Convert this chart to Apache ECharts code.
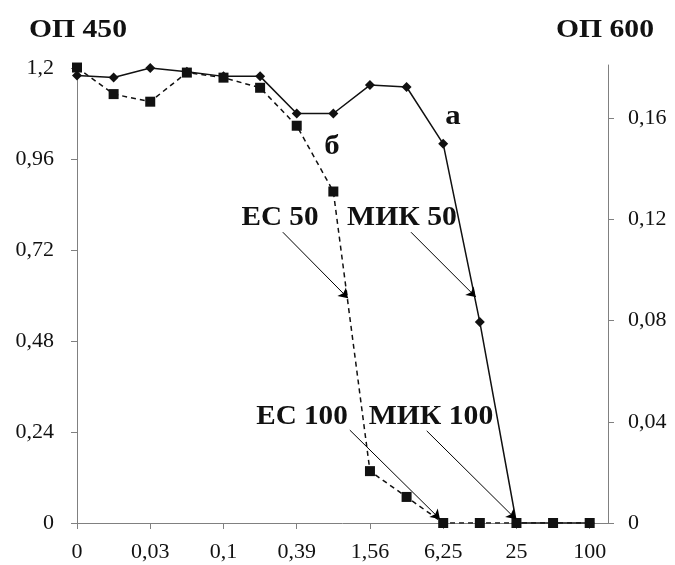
<!DOCTYPE html>
<html><head><meta charset="utf-8">
<script src="https://cdn.jsdelivr.net/npm/echarts@6/dist/echarts.min.js"></script>
<style>html,body{margin:0;padding:0;background:#fff}#c{width:675px;height:565px}</style>
</head><body><div id="c"></div>
<script>
// Categories (concentration), every other one labelled on the axis
const categories = ['0','0,015','0,03','0,05','0,1','0,2','0,39','0,78','1,56','3,13','6,25','12,5','25','50','100'];
// Series "а" – ОП 450 (left axis), diamonds, solid line
const seriesA = [1.18, 1.175, 1.2, 1.19, 1.178, 1.178, 1.08, 1.08, 1.155, 1.15, 1.0, 0.53, 0, 0, 0];
// Series "б" – ОП 600 (right axis), squares, dashed line
const seriesB = [0.18, 0.1695, 0.1665, 0.178, 0.176, 0.172, 0.157, 0.131, 0.0205, 0.0103, 0, 0, 0, 0, 0];
// Tick steps
const leftTickStep = 0.24;
const rightTickStep = 0.04;
// Arrow annotations (in category index / left-axis value units)
const arrowNames = ['ЕС 50', 'МИК 50', 'ЕС 100', 'МИК 100'];
const arrowFrom = [[5.62, 0.767], [9.12, 0.767], [7.45, 0.245], [9.55, 0.243]];
const arrowTo = [[7.40, 0.593], [10.89, 0.596], [9.91, 0.0105], [11.98, 0.0105]];

const fmt = v => String(+(+v).toFixed(3)).replace('.', ',');
const FONT = '"Liberation Serif", "Times New Roman", serif';
const axisColor = '#808080';
const txt = '#111';

const chart = echarts.init(document.getElementById('c'));
const boldText = (s, x, y, size, sx) => ({
  type: 'text', x: x, y: y, scaleX: sx,
  style: { text: s, font: 'bold ' + size + 'px ' + FONT, fill: txt, textAlign: 'center', textVerticalAlign: 'middle' }
});
chart.setOption({
  animation: false,
  backgroundColor: '#fff',
  grid: { left: 77, right: 67, top: 65, bottom: 42 },
  xAxis: {
    type: 'value', min: 0, max: 14.5, interval: 2,
    axisLine: { show: true, lineStyle: { color: axisColor, width: 1 } },
    axisTick: { show: true, length: 6, lineStyle: { color: axisColor } },
    splitLine: { show: false },
    axisLabel: {
      showMaxLabel: false, margin: 18, fontSize: 22, fontFamily: FONT, color: txt,
      formatter: v => (Number.isInteger(v) && categories[v] !== undefined) ? categories[v] : ''
    }
  },
  yAxis: [{
    type: 'value', min: 0, max: 1.208, interval: leftTickStep, position: 'left',
    axisLine: { show: true, lineStyle: { color: axisColor } },
    axisTick: { show: true, length: 6, lineStyle: { color: axisColor } },
    splitLine: { show: false },
    axisLabel: { showMaxLabel: false, margin: 23, fontSize: 22, fontFamily: FONT, color: txt, formatter: fmt }
  }, {
    type: 'value', min: 0, max: 0.181, interval: rightTickStep, position: 'right',
    axisLine: { show: true, lineStyle: { color: axisColor } },
    axisTick: { show: true, length: 6, lineStyle: { color: axisColor } },
    splitLine: { show: false },
    axisLabel: { showMaxLabel: false, margin: 20, fontSize: 22, fontFamily: FONT, color: txt, formatter: fmt }
  }],
  series: [{
    name: 'а', type: 'line', yAxisIndex: 0,
    data: seriesA.map((v, i) => [i, v]),
    symbol: 'diamond', symbolSize: 10,
    lineStyle: { color: '#111', width: 1.5 }, itemStyle: { color: '#111' },
    markLine: {
      silent: true, symbol: ['none', 'arrow'], symbolSize: 9,
      lineStyle: { color: '#000', width: 1, type: 'solid', opacity: 1 },
      itemStyle: { color: '#000' },
      emphasis: { disabled: true },
      label: { show: false },
      data: arrowNames.map((n, k) => [{ coord: arrowFrom[k], name: n }, { coord: arrowTo[k] }])
    },
    z: 3
  }, {
    name: 'б', type: 'line', yAxisIndex: 1,
    data: seriesB.map((v, i) => [i, v]),
    symbol: 'rect', symbolSize: 10,
    lineStyle: { color: '#111', width: 1.5, type: [5, 4] }, itemStyle: { color: '#111' },
    z: 4
  }],
  graphic: [
    boldText('ОП 450', 78, 30, 26, 1.14),
    boldText('ОП 600', 605, 30, 26, 1.14),
    boldText('а', 453, 117, 28, 1.1),
    boldText('б', 332, 147, 28, 1.1),
    boldText('ЕС 50', 280, 218, 27, 1.08),
    boldText('МИК 50', 402, 218, 27, 1.1),
    boldText('ЕС 100', 302, 417, 27, 1.08),
    boldText('МИК 100', 431, 417, 27, 1.1)
  ]
});
</script></body></html>
